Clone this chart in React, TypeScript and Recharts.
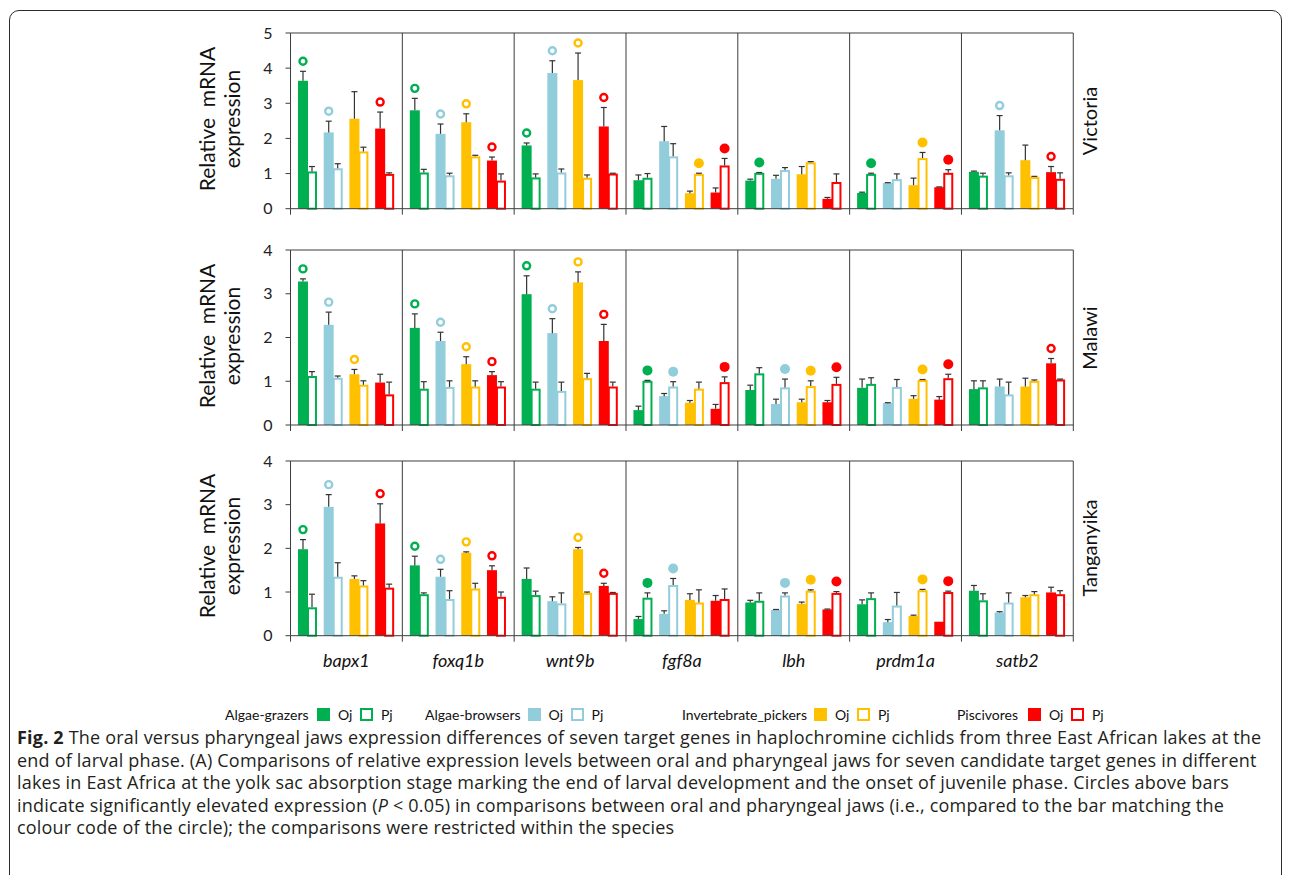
import React from 'react';
import { BarChart, Bar, XAxis, YAxis, ReferenceLine } from 'recharts';

const GENES = ['bapx1', 'foxq1b', 'wnt9b', 'fgf8a', 'lbh', 'prdm1a', 'satb2'];
const GROUPS = ['Algae-grazers', 'Algae-browsers', 'Invertebrate_pickers', 'Piscivores'];
const COLORS = ['#00B050', '#92CDDC', '#FFC000', '#FF0000'];

// values per gene, one entry per group (grazers, browsers, pickers, piscivores)
const VICTORIA_OJ = [
  [3.64, 2.17, 2.56, 2.28], [2.8, 2.13, 2.46, 1.37], [1.8, 3.86, 3.66, 2.34], [0.81, 1.92, 0.44, 0.46],
  [0.8, 0.85, 0.98, 0.28], [0.45, 0.73, 0.67, 0.61], [1.05, 2.23, 1.38, 1.04],
];
const VICTORIA_OJ_ERR = [
  [0.27, 0.32, 0.77, 0.47], [0.34, 0.28, 0.24, 0.1], [0.07, 0.35, 0.77, 0.54], [0.15, 0.42, 0.06, 0.13],
  [0.04, 0.1, 0.22, 0.04], [0.02, 0.01, 0.2, 0.01], [0.02, 0.42, 0.43, 0.16],
];
const VICTORIA_PJ = [
  [1.06, 1.15, 1.63, 0.99], [1.03, 0.95, 1.49, 0.8], [0.89, 1.03, 0.88, 1.0], [0.88, 1.49, 0.99, 1.23],
  [1.02, 1.1, 1.32, 0.76], [0.99, 0.84, 1.44, 1.02], [0.94, 0.95, 0.9, 0.85],
];
const VICTORIA_PJ_ERR = [
  [0.14, 0.13, 0.12, 0.03], [0.09, 0.06, 0.03, 0.19], [0.1, 0.1, 0.08, 0.01], [0.12, 0.36, 0.02, 0.2],
  [0.01, 0.07, 0.02, 0.23], [0.02, 0.15, 0.16, 0.09], [0.07, 0.07, 0.02, 0.17],
];
// o = open circle above Oj, f = filled circle above Pj
const VICTORIA_SIG = ['oo-o', 'oooo', 'oooo', '--ff', 'f---', 'f-ff', '-o-o'];

const MALAWI_OJ = [
  [3.28, 2.29, 1.16, 0.97], [2.22, 1.92, 1.39, 1.14], [2.99, 2.1, 3.26, 1.92], [0.34, 0.66, 0.51, 0.37],
  [0.8, 0.48, 0.52, 0.52], [0.85, 0.5, 0.6, 0.58], [0.82, 0.88, 0.88, 1.41],
];
const MALAWI_OJ_ERR = [
  [0.06, 0.29, 0.11, 0.19], [0.32, 0.2, 0.17, 0.08], [0.42, 0.33, 0.24, 0.38], [0.09, 0.06, 0.05, 0.1],
  [0.11, 0.11, 0.07, 0.04], [0.2, 0.01, 0.07, 0.07], [0.19, 0.17, 0.19, 0.11],
];
const MALAWI_PJ = [
  [1.12, 1.08, 0.92, 0.7], [0.83, 0.87, 0.88, 0.88], [0.83, 0.78, 1.07, 0.88], [1.01, 0.88, 0.83, 0.98],
  [1.18, 0.86, 0.89, 0.94], [0.94, 0.87, 1.03, 1.07], [0.86, 0.7, 1.01, 1.04],
];
const MALAWI_PJ_ERR = [
  [0.1, 0.04, 0.09, 0.28], [0.16, 0.14, 0.13, 0.11], [0.15, 0.2, 0.11, 0.1], [0.01, 0.11, 0.15, 0.12],
  [0.13, 0.19, 0.12, 0.15], [0.14, 0.17, 0.01, 0.09], [0.15, 0.28, 0.02, 0.01],
];
const MALAWI_SIG = ['ooo-', 'oooo', 'oooo', 'ff-f', '-fff', '--ff', '---o'];

const TANGANYIKA_OJ = [
  [1.98, 2.95, 1.3, 2.57], [1.61, 1.35, 1.9, 1.5], [1.3, 0.79, 1.98, 1.14], [0.38, 0.5, 0.82, 0.8],
  [0.76, 0.59, 0.73, 0.6], [0.72, 0.31, 0.45, 0.32], [1.03, 0.53, 0.88, 0.99],
];
const TANGANYIKA_OJ_ERR = [
  [0.22, 0.28, 0.07, 0.45], [0.21, 0.17, 0.02, 0.1], [0.25, 0.1, 0.04, 0.06], [0.06, 0.07, 0.14, 0.12],
  [0.05, 0.01, 0.04, 0.01], [0.1, 0.06, 0.02, 0], [0.12, 0.02, 0.04, 0.12],
];
const TANGANYIKA_PJ = [
  [0.65, 1.35, 1.15, 1.1], [0.95, 0.84, 1.08, 0.89], [0.93, 0.74, 0.98, 0.98], [0.87, 1.16, 0.76, 0.84],
  [0.8, 0.92, 1.03, 0.98], [0.86, 0.69, 1.04, 1.0], [0.81, 0.76, 0.95, 0.95],
];
const TANGANYIKA_PJ_ERR = [
  [0.3, 0.32, 0.11, 0.08], [0.03, 0.19, 0.12, 0.11], [0.09, 0.24, 0.02, 0.01], [0.11, 0.15, 0.29, 0.23],
  [0.18, 0.06, 0.02, 0.03], [0.12, 0.3, 0.02, 0.02], [0.15, 0.22, 0.06, 0.08],
];
const TANGANYIKA_SIG = ['oo-o', 'oooo', '--oo', 'ff--', '-fff', '--ff', '----'];

const FONT = 'Lato, "Noto Sans", sans-serif';
const CAPTION_FONT = '"Open Sans", "Noto Sans", sans-serif';
const AXIS_COLOR = '#3c3c3c';
const ERR_COLOR = '#333333';
const PAIR_STEP = 0.23; // distance between group pairs, in panel widths
const PLOT_LEFT = 290.5;
const PLOT_RIGHT = 1073.3;
const Y_AXIS_W = 40;
const X_AXIS_H = 36;
const PAD_TOP = 12;
const X_TICKS = Array.from({ length: GENES.length * 2 + 1 }, (_, i) => i / 2);

type Row = { pos: number; group: number; oj: number; pj: number; ojErr: number; pjErr: number; sig: string };

const buildRows = (oj: number[][], pj: number[][], ojErr: number[][], pjErr: number[][], sig: string[]): Row[] => {
  const rows: Row[] = [];
  GENES.forEach((_, g) => {
    GROUPS.forEach((_, k) => {
      rows.push({
        pos: g + 0.5 + (k - 1.5) * PAIR_STEP,
        group: k,
        oj: oj[g][k],
        pj: pj[g][k],
        ojErr: ojErr[g][k],
        pjErr: pjErr[g][k],
        sig: sig[g][k],
      });
    });
  });
  return rows;
};

const LAKES = [
  { name: 'Victoria', top: 33.3, height: 175.7, max: 5, rows: buildRows(VICTORIA_OJ, VICTORIA_PJ, VICTORIA_OJ_ERR, VICTORIA_PJ_ERR, VICTORIA_SIG) },
  { name: 'Malawi', top: 250, height: 175, max: 4, rows: buildRows(MALAWI_OJ, MALAWI_PJ, MALAWI_OJ_ERR, MALAWI_PJ_ERR, MALAWI_SIG) },
  { name: 'Tanganyika', top: 461, height: 174.7, max: 4, rows: buildRows(TANGANYIKA_OJ, TANGANYIKA_PJ, TANGANYIKA_OJ_ERR, TANGANYIKA_PJ_ERR, TANGANYIKA_SIG) },
];

const JawShape = (props: any) => {
  const { x, y, width, height, payload, jaw } = props;
  const color = COLORS[payload.group];
  const value = jaw === 'oj' ? payload.oj : payload.pj;
  const err = jaw === 'oj' ? payload.ojErr : payload.pjErr;
  const perUnit = value > 0 ? height / value : 0;
  const cx = x + width / 2;
  const errTop = y - err * perUnit;
  const ring = jaw === 'oj' && payload.sig === 'o';
  const dot = jaw === 'pj' && payload.sig === 'f';
  return (
    <g>
      {jaw === 'oj' ? (
        <rect x={x} y={y} width={width} height={height} fill={color} />
      ) : (
        <rect x={x + 1} y={y + 1} width={width - 2} height={Math.max(height - 1, 0)} fill="#fff" stroke={color} strokeWidth={2} />
      )}
      {err > 0 && (
        <g stroke={ERR_COLOR} strokeWidth={1.2}>
          <line x1={cx} x2={cx} y1={y} y2={errTop} />
          <line x1={cx - 3} x2={cx + 3} y1={errTop} y2={errTop} />
        </g>
      )}
      {ring && <circle cx={cx} cy={errTop - 10} r={3.5} fill="#fff" stroke={color} strokeWidth={2.4} />}
      {dot && <circle cx={cx} cy={errTop - 10} r={5} fill={color} />}
    </g>
  );
};

const GeneTick = (props: any) => {
  const { x, y, payload, showLabel } = props;
  const v = payload.value;
  if (Number.isInteger(v)) {
    return <line x1={x} x2={x} y1={y - 6} y2={y} stroke={AXIS_COLOR} />;
  }
  if (!showLabel) return <g />;
  return (
    <text x={x} y={y + 25} textAnchor="middle" fontStyle="italic" fontSize={18} fill="#111" fontFamily={FONT}>
      {GENES[Math.floor(v)]}
    </text>
  );
};

const LakeChart = ({ lake, last }: { lake: (typeof LAKES)[number]; last: boolean }) => {
  const yTicks = Array.from({ length: lake.max + 1 }, (_, i) => i);
  const mid = lake.top + lake.height / 2;
  return (
    <>
      <div style={{ position: 'absolute', left: 0, top: lake.top - PAD_TOP }}>
        <BarChart
          width={1290}
          height={PAD_TOP + lake.height + X_AXIS_H}
          data={lake.rows}
          margin={{ top: PAD_TOP, right: 1290 - PLOT_RIGHT, bottom: 0, left: PLOT_LEFT - Y_AXIS_W }}
          barSize={10}
          barGap={-1}
        >
          <XAxis
            type="number"
            dataKey="pos"
            domain={[0, GENES.length]}
            ticks={X_TICKS}
            interval={0}
            tickSize={6}
            tickMargin={0}
            tickLine={false}
            axisLine={{ stroke: AXIS_COLOR }}
            height={X_AXIS_H}
            tick={(p: any) => <GeneTick {...p} showLabel={last} />}
          />
          <YAxis
            type="number"
            domain={[0, lake.max]}
            ticks={yTicks}
            interval={0}
            width={Y_AXIS_W}
            tickSize={5}
            tickMargin={13}
            axisLine={{ stroke: AXIS_COLOR }}
            tickLine={{ stroke: AXIS_COLOR }}
            tick={{ fontSize: 16, fill: '#222', fontFamily: FONT }}
          />
          <ReferenceLine y={lake.max} stroke={AXIS_COLOR} />
          {GENES.map((_, g) => (
            <ReferenceLine key={g} x={g + 1} stroke={AXIS_COLOR} />
          ))}
          <Bar dataKey="oj" isAnimationActive={false} shape={(p: any) => <JawShape {...p} jaw="oj" />} />
          <Bar dataKey="pj" isAnimationActive={false} shape={(p: any) => <JawShape {...p} jaw="pj" />} />
        </BarChart>
      </div>
      <div
        style={{
          position: 'absolute', left: 219, top: mid - 2, transform: 'translate(-50%, -50%) rotate(-90deg)',
          fontSize: 21, lineHeight: '25px', textAlign: 'center', whiteSpace: 'pre', color: '#111',
        }}
      >
        {'Relative  mRNA\nexpression'}
      </div>
      <div
        style={{
          position: 'absolute', left: 1089, top: mid, transform: 'translate(-50%, -50%) rotate(-90deg)',
          fontSize: 20, whiteSpace: 'nowrap', color: '#111',
        }}
      >
        {lake.name}
      </div>
    </>
  );
};

const LEGEND_X = [225, 425, 682, 957];
const LEGEND_LABEL_W = [92, 97, 128, 71];

const Swatch = ({ color, open }: { color: string; open: boolean }) => (
  <span
    style={{
      display: 'inline-block', flexShrink: 0, width: 13, height: 13, boxSizing: 'border-box',
      background: open ? '#fff' : color, border: open ? `2px solid ${color}` : 'none',
    }}
  />
);

const Legend = () => (
  <>
    {GROUPS.map((name, k) => (
      <div
        key={name}
        style={{ position: 'absolute', left: LEGEND_X[k], top: 704, height: 20, display: 'flex', alignItems: 'center', fontSize: 14, color: '#111', whiteSpace: 'nowrap' }}
      >
        <span style={{ flexShrink: 0, minWidth: LEGEND_LABEL_W[k] - 7 }}>{name}</span>
        <span style={{ flexShrink: 0, width: 7 }} />
        <Swatch color={COLORS[k]} open={false} />
        <span style={{ flexShrink: 0, marginLeft: 8, width: 14 }}>Oj</span>
        <span style={{ flexShrink: 0, width: 8 }} />
        <Swatch color={COLORS[k]} open />
        <span style={{ flexShrink: 0, marginLeft: 8 }}>Pj</span>
      </div>
    ))}
  </>
);

const Caption = () => (
  <div
    style={{
      position: 'absolute', left: 17, top: 726, fontSize: 18, letterSpacing: 0.2, lineHeight: '22.5px', color: '#231f20',
      whiteSpace: 'nowrap', fontFamily: CAPTION_FONT,
    }}
  >
    <div>
      <b>Fig. 2</b> The oral versus pharyngeal jaws expression differences of seven target genes in haplochromine cichlids from three East African lakes at the
    </div>
    <div>end of larval phase. (A) Comparisons of relative expression levels between oral and pharyngeal jaws for seven candidate target genes in different</div>
    <div>lakes in East Africa at the yolk sac absorption stage marking the end of larval development and the onset of juvenile phase. Circles above bars</div>
    <div>
      indicate significantly elevated expression (<i>P</i> &lt; 0.05) in comparisons between oral and pharyngeal jaws (i.e., compared to the bar matching the
    </div>
    <div>colour code of the circle); the comparisons were restricted within the species</div>
  </div>
);

export default function App() {
  return (
    <div style={{ position: 'absolute', left: 0, top: 0, width: 1290, height: 875, overflow: 'hidden', background: '#fff', fontFamily: FONT }}>
      <div style={{ position: 'absolute', left: 9, top: 10, width: 1273, height: 920, border: '1.5px solid #2b2b2b', borderRadius: 10, boxSizing: 'border-box' }} />
      {LAKES.map((lake, i) => (
        <LakeChart key={lake.name} lake={lake} last={i === LAKES.length - 1} />
      ))}
      <Legend />
      <Caption />
    </div>
  );
}
